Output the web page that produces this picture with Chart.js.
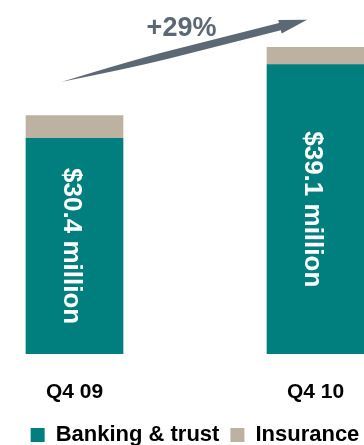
<!DOCTYPE html>
<html>
<head>
<meta charset="utf-8">
<script src="https://cdn.jsdelivr.net/npm/chart.js@4/dist/chart.umd.min.js"></script>
<style>
  html, body { margin: 0; padding: 0; background: #fff; }
  body { width: 364px; height: 445px; overflow: hidden; position: relative; }
  #wrap { position: absolute; left: -46px; top: 0; width: 482px; height: 456px; }
</style>
</head>
<body>
<div id="wrap"><canvas id="revenueChart"></canvas></div>
<script>
const categories = ['Q4 09', 'Q4 10'];
const seriesNames = ['Banking & trust', 'Insurance'];
const bankingTrust = [27.5, 36.9];   // $ million
const insurance = [2.9, 2.2];        // $ million

const TEAL = '#007f7e';
const TAN = '#bdb1a1';
const SLATE = '#5c6873';
const FONT = '"Liberation Sans", Arial, sans-serif';

const totals = bankingTrust.map((v, i) => v + insurance[i]);
const growthPct = Math.round((totals[1] / totals[0] - 1) * 100);

// white rotated "$xx.x million" inside the teal segment
const barLabels = {
    id: 'barLabels',
    afterDatasetsDraw(chart) {
        const ctx = chart.ctx;
        const meta = chart.getDatasetMeta(0);
        ctx.save();
        ctx.fillStyle = '#fff';
        ctx.font = 'bold 26px ' + FONT;
        ctx.textAlign = 'center';
        ctx.textBaseline = 'middle';
        meta.data.forEach((bar, i) => {
            const cy = (bar.y + bar.base) / 2;
            ctx.save();
            ctx.translate(bar.x - 3, cy);
            ctx.rotate(Math.PI / 2);
            ctx.fillText('$' + totals[i].toFixed(1) + ' million', 0, 0);
            ctx.restore();
        });
        ctx.restore();
    }
};

// tapered growth arrow with percentage above it
const growthArrow = {
    id: 'growthArrow',
    afterDraw(chart) {
        const { ctx, scales: { x, y } } = chart;
        const tx = x.getPixelForValue(-0.052), ty = y.getPixelForValue(34.7);
        const hx = x.getPixelForValue(0.965), hy = y.getPixelForValue(42.6);
        const dx = hx - tx, dy = hy - ty;
        const len = Math.hypot(dx, dy);
        const ux = dx / len, uy = dy / len;
        const nx = -uy, ny = ux;
        const headLen = 28, shaftW = 3.8, headW = 7;
        // shaft swells from a point at the tail, full width by mid-length
        const mx = tx + dx * 0.45, my = ty + dy * 0.45;
        const bx = hx - ux * headLen, by = hy - uy * headLen;

        ctx.save();
        ctx.fillStyle = SLATE;
        ctx.beginPath();
        ctx.moveTo(tx, ty);
        ctx.quadraticCurveTo(mx - ux * 40 + nx * shaftW, my - uy * 40 + ny * shaftW, mx + nx * shaftW, my + ny * shaftW);
        ctx.lineTo(bx + nx * shaftW, by + ny * shaftW);
        ctx.lineTo(bx + nx * headW, by + ny * headW);
        ctx.lineTo(hx, hy);
        ctx.lineTo(bx - nx * headW, by - ny * headW);
        ctx.lineTo(bx - nx * shaftW, by - ny * shaftW);
        ctx.lineTo(mx - nx * shaftW, my - ny * shaftW);
        ctx.quadraticCurveTo(mx - ux * 40 - nx * shaftW, my - uy * 40 - ny * shaftW, tx, ty);
        ctx.closePath();
        ctx.fill();

        ctx.font = 'bold 27px ' + FONT;
        ctx.textAlign = 'center';
        ctx.textBaseline = 'middle';
        ctx.fillText('+' + growthPct + '%', (tx + hx) / 2 - 3, (ty + hy) / 2 - 22);
        ctx.restore();
    }
};

new Chart(document.getElementById('revenueChart'), {
    type: 'bar',
    data: {
        labels: categories,
        datasets: [
            { label: seriesNames[0], data: bankingTrust, backgroundColor: TEAL },
            { label: seriesNames[1], data: insurance, backgroundColor: TAN }
        ]
    },
    options: {
        responsive: true,
        maintainAspectRatio: false,
        animation: false,
        layout: { padding: { top: 1, bottom: 0 } },
        datasets: { bar: { barThickness: 97 } },
        scales: {
            x: {
                stacked: true,
                grid: { display: false, drawTicks: false },
                border: { display: false },
                ticks: { color: '#000', padding: 26, font: { family: FONT, size: 21, weight: 'bold' } },
                afterFit(scale) { scale.height = 59; }
            },
            y: { stacked: true, display: false, min: 0, max: 45 }
        },
        plugins: {
            legend: {
                position: 'bottom',
                labels: {
                    color: '#000',
                    boxWidth: 14,
                    boxHeight: 14,
                    padding: 11,
                    font: { family: FONT, size: 22, weight: 'bold' }
                }
            },
            tooltip: { enabled: false }
        }
    },
    plugins: [barLabels, growthArrow]
});
</script>
</body>
</html>
